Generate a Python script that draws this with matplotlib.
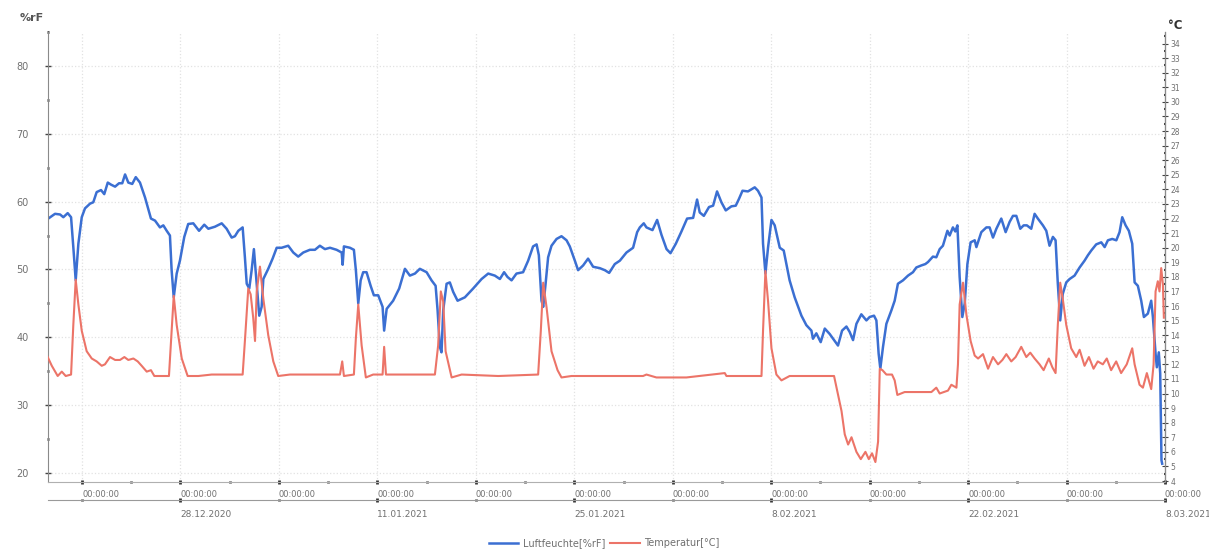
import numpy as np
import pandas as pd
import matplotlib
matplotlib.use("Agg")
import matplotlib.pyplot as plt
import matplotlib.dates as mdates
from matplotlib.ticker import MultipleLocator

# Messbeginn (Tage werden ab diesem Zeitpunkt gezaehlt)
start = pd.Timestamp("2020-12-18")

# Luftfeuchte [%rF]
tage_rf = [0.60, 1.08, 1.44, 1.67, 1.98, 2.22, 2.38, 2.55, 2.74, 2.98, 3.21, 3.57, 3.80, 4.04, 4.35,
           4.58, 4.83, 5.06, 5.35, 5.63, 5.86, 6.06, 6.29, 6.57, 6.82, 7.12, 7.48, 7.90, 8.19, 8.54,
           8.78, 9.02, 9.25, 9.37, 9.52, 9.73, 9.96, 10.27, 10.55, 10.91, 11.32, 11.69, 11.98, 12.45,
           12.93, 13.28, 13.64, 13.87, 14.11, 14.42, 14.58, 14.71, 14.89, 15.06, 15.22, 15.42, 15.60,
           15.77, 15.89, 16.24, 16.55, 16.84, 17.19, 17.66, 18.02, 18.37, 18.73, 19.20, 19.56, 19.91,
           20.27, 20.63, 21.10, 21.46, 21.53, 21.62, 22.05, 22.33, 22.47, 22.64, 22.81, 22.99, 23.23,
           23.52, 23.75, 24.06, 24.37, 24.48, 24.66, 25.12, 25.55, 25.96, 26.31, 26.67, 27.02, 27.50,
           27.85, 28.14, 28.28, 28.44, 28.56, 28.68, 28.92, 29.15, 29.39, 29.70, 30.22, 30.81, 31.41,
           31.88, 32.35, 32.71, 33.01, 33.25, 33.54, 33.89, 34.36, 34.72, 35.07, 35.32, 35.48, 35.67,
           35.79, 35.96, 36.14, 36.38, 36.74, 37.09, 37.45, 37.68, 38.04, 38.27, 38.63, 38.98, 39.34,
           39.81, 40.17, 40.48, 40.88, 41.24, 41.71, 42.18, 42.47, 42.66, 42.94, 43.13, 43.56, 43.89,
           44.20, 44.56, 44.84, 45.22, 45.62, 46.02, 46.45, 46.73, 46.92, 47.21, 47.58, 47.87, 48.15,
           48.46, 48.77, 49.17, 49.48, 49.71, 49.96, 50.35, 50.83, 51.06, 51.31, 51.42, 51.59, 51.78,
           52.02, 52.25, 52.61, 52.89, 53.31, 53.67, 54.15, 54.50, 54.86, 54.97, 55.21, 55.52, 55.81,
           56.16, 56.47, 56.75, 57.04, 57.35, 57.58, 57.82, 58.06, 58.41, 58.77, 59.00, 59.31, 59.48,
           59.64, 59.76, 59.95, 60.19, 60.55, 60.78, 61.01, 61.37, 61.73, 62.08, 62.32, 62.68, 62.96,
           63.15, 63.50, 63.74, 63.98, 64.21, 64.53, 64.69, 64.92, 65.09, 65.24, 65.40, 65.59, 65.76,
           65.95, 66.18, 66.47, 66.59, 66.94, 67.30, 67.53, 67.77, 68.01, 68.36, 68.67, 68.95, 69.19,
           69.43, 69.71, 69.95, 70.18, 70.49, 70.73, 70.96, 71.32, 71.56, 71.79, 72.03, 72.22, 72.38,
           72.55, 72.73, 72.98, 73.22, 73.57, 73.93, 74.28, 74.52, 74.76, 75.11, 75.47, 75.71, 75.94,
           76.25, 76.54, 76.77, 76.96, 77.20, 77.43, 77.67, 77.84, 78.07, 78.31, 78.50, 78.78, 79.02,
           79.14, 79.33, 79.42, 79.56, 79.66, 79.75, 79.80]
luftfeuchte = [57.5, 58.2, 58.1, 57.7, 58.3, 57.7, 53.3, 48.4, 53.8, 57.7, 59.0, 59.7, 59.9, 61.4, 61.7,
               61.1, 62.8, 62.5, 62.2, 62.7, 62.7, 64.0, 62.8, 62.6, 63.6, 62.8, 60.6, 57.5, 57.2, 56.2,
               56.5, 55.7, 55.0, 49.9, 45.9, 49.4, 51.3, 54.8, 56.7, 56.8, 55.7, 56.6, 56.0, 56.3,
               56.8, 56.0, 54.7, 54.9, 55.7, 56.2, 51.8, 47.9, 47.2, 49.9, 53.0, 47.9, 43.2,
               44.5, 48.6, 50.1, 51.6, 53.2, 53.2, 53.5, 52.5, 51.9, 52.5, 52.9, 52.9, 53.5,
               53.0, 53.2, 52.9, 52.5, 50.7, 53.4, 53.2, 52.9, 49.9, 45.0, 48.4, 49.6, 49.6,
               47.6, 46.2, 46.2, 44.5, 41.0, 44.2, 45.4, 47.2, 50.1, 49.1, 49.4, 50.1, 49.6,
               48.4, 47.6, 44.0, 38.6, 37.8, 44.0, 47.9, 48.1, 46.7, 45.4, 45.9, 47.2, 48.6,
               49.4, 49.1, 48.6, 49.6, 48.9, 48.4, 49.4, 49.6, 51.3, 53.4, 53.7, 52.1, 45.4,
               44.5, 47.9, 51.8, 53.5, 54.5, 54.9, 54.3, 53.4, 51.3, 49.9, 50.6, 51.6, 50.4,
               50.2, 49.9, 49.5, 50.8, 51.3, 52.5, 53.2, 55.5, 56.2, 56.8, 56.2, 55.8, 57.3,
               55.1, 53.0, 52.4, 53.8, 55.6, 57.5, 57.6, 60.3, 58.4, 57.9, 59.2, 59.4, 61.5,
               59.9, 58.7, 59.3, 59.4, 60.4, 61.6, 61.5, 62.1, 61.6, 60.6, 53.8, 49.4, 53.3,
               57.3, 56.5, 53.2, 52.8, 48.4, 45.9, 43.2, 41.8, 41.0, 39.8, 40.6, 39.3, 41.3,
               40.5, 39.6, 38.8, 41.0, 41.6, 40.8, 39.6, 42.0, 43.4, 42.5, 43.0, 43.2, 42.5,
               37.6, 35.4, 38.6, 42.0, 44.0, 45.4, 47.9, 48.4, 49.1, 49.6, 50.3, 50.6, 50.8,
               51.1, 51.9, 51.8, 53.0, 53.5, 55.7, 55.0, 56.2, 55.6, 56.5, 48.9, 43.0, 45.0,
               50.8, 54.0, 54.3, 53.3, 55.5, 56.2, 56.2, 54.7, 56.0, 57.5, 55.5, 57.0, 57.9,
               57.9, 56.0, 56.5, 56.5, 56.0, 58.2, 57.5, 56.5, 55.7, 53.5, 54.8, 54.3, 47.9,
               42.5, 46.4, 48.1, 48.6, 49.1, 50.3, 51.3, 52.1, 52.8, 53.7, 54.0, 53.3, 54.3,
               54.5, 54.3, 55.5, 57.7, 56.5, 55.7, 53.8, 48.1, 47.6, 45.4, 43.0, 43.5, 45.4,
               43.0, 37.6, 35.6, 37.8, 34.7, 21.9, 21.4]

# Temperatur [°C]
tage_t = [0.56, 0.85, 1.27, 1.56, 1.84, 2.22, 2.38, 2.55, 2.74, 2.98, 3.33, 3.69, 4.04, 4.40, 4.63,
          4.99, 5.35, 5.70, 6.01, 6.29, 6.65, 6.96, 7.24, 7.60, 7.90, 8.14, 8.54, 9.18, 9.37, 9.52,
          9.73, 10.09, 10.51, 11.27, 12.22, 13.87, 14.42, 14.58, 14.82, 14.99, 15.17, 15.30, 15.42,
          15.65, 15.89, 16.24, 16.60, 16.95, 17.78, 21.34, 21.50, 21.62, 22.33, 22.47, 22.64, 22.88,
          23.18, 23.70, 24.37, 24.48, 24.61, 27.02, 28.09, 28.32, 28.51, 28.68, 28.85, 29.28, 29.99,
          32.59, 35.43, 35.62, 35.79, 36.03, 36.38, 36.81, 37.09, 37.80, 40.17, 42.89, 43.13, 43.84,
          45.97, 48.70, 48.82, 51.31, 51.42, 51.59, 51.78, 52.02, 52.37, 52.73, 53.31, 56.47, 56.71,
          57.00, 57.23, 57.47, 57.71, 58.06, 58.37, 58.70, 58.94, 59.17, 59.41, 59.60, 59.72, 59.91,
          60.19, 60.59, 60.78, 60.97, 61.49, 62.44, 63.39, 63.74, 63.98, 64.57, 64.81, 65.17, 65.28,
          65.40, 65.64, 65.88, 66.18, 66.47, 66.71, 67.06, 67.42, 67.77, 68.13, 68.44, 68.72, 69.07,
          69.38, 69.78, 70.14, 70.42, 70.73, 71.08, 71.37, 71.74, 71.99, 72.22, 72.38, 72.55, 72.73,
          72.98, 73.33, 73.69, 73.93, 74.28, 74.59, 74.92, 75.22, 75.58, 75.86, 76.17, 76.53, 76.88,
          77.28, 77.67, 77.84, 78.19, 78.43, 78.71, 79.02, 79.19, 79.33, 79.49, 79.61, 79.73, 79.85,
          79.92]
temperatur = [12.5, 11.9, 11.2, 11.5, 11.2, 11.3, 14.7, 17.8, 16.1, 14.3, 12.9, 12.4, 12.2, 11.9, 12.0,
              12.5, 12.3, 12.3, 12.5, 12.3, 12.4, 12.2, 11.9, 11.5, 11.6, 11.2, 11.2, 11.2, 14.3, 16.7,
              14.7, 12.4, 11.2, 11.2, 11.3, 11.3, 11.3, 13.6, 17.2, 16.8, 15.2, 13.6, 17.0,
              18.7, 16.5, 14.0, 12.2, 11.2, 11.3, 11.3, 12.2, 11.2, 11.3, 13.8, 16.1, 13.3,
              11.1, 11.3, 11.3, 13.2, 11.3, 11.3, 11.3, 13.3, 17.0, 16.3, 12.9, 11.1, 11.3,
              11.2, 11.3, 14.3, 17.6, 15.9, 12.9, 11.6, 11.1, 11.2, 11.2, 11.2, 11.3, 11.1,
              11.1, 11.4, 11.2, 11.2, 14.3, 18.4, 16.3, 13.1, 11.3, 10.9, 11.2, 11.2, 10.1,
              8.8, 7.2, 6.5, 7.0, 6.0, 5.5, 6.0, 5.5, 5.9, 5.3, 6.7, 11.7, 11.6,
              11.3, 11.3, 10.9, 9.9, 10.1, 10.1, 10.1, 10.4, 10.0, 10.2, 10.6, 10.4, 12.0,
              16.1, 17.6, 15.4, 13.6, 12.6, 12.4, 12.7, 11.7, 12.5, 12.0, 12.3, 12.7, 12.2,
              12.5, 13.2, 12.5, 12.8, 12.4, 12.0, 11.6, 12.4, 11.8, 11.4, 14.7, 17.6, 16.5,
              14.7, 13.1, 12.5, 13.0, 11.9, 12.5, 11.7, 12.2, 12.0, 12.4, 11.6, 12.2, 11.4,
              12.0, 13.1, 12.0, 10.6, 10.4, 11.4, 10.3, 12.0, 17.0, 17.7, 17.0, 18.6, 17.5,
              15.2]

# Achsenbeschriftung unten
wochen = pd.date_range("2020-12-21", "2021-03-08", freq="7D")
halbwochen = pd.date_range("2020-12-24 12:00", "2021-03-04 12:00", freq="7D")
datum_ticks = pd.date_range("2020-12-28", "2021-03-08", freq="14D")
datum_labels = ["28.12.2020", "11.01.2021", "25.01.2021", "8.02.2021", "22.02.2021", "8.03.2021"]

blau = "#3b6fd2"
rot = "#ec7468"
grau = "#707070"

t0 = mdates.date2num(start)
x_rf = t0 + np.array(tage_rf)
x_t = t0 + np.array(tage_t)

fig = plt.figure(figsize=(12.09, 5.49), dpi=100)
ax = fig.add_axes([0.0397, 0.122, 0.9239, 0.820])
ax2 = ax.twinx()

l1, = ax.plot(x_rf, luftfeuchte, color=blau, lw=1.8, label="Luftfeuchte[%rF]")
l2, = ax2.plot(x_t, temperatur, color=rot, lw=1.5, label="Temperatur[°C]")

# linke Achse
ax.set_yticks(np.arange(20, 81, 10))
ax.yaxis.set_minor_locator(MultipleLocator(5))
ax.tick_params(axis="y", which="major", direction="inout", length=4, width=1, color="#444444",
               labelsize=7, labelcolor=grau, pad=12)
ax.tick_params(axis="y", which="minor", direction="inout", length=2, width=2, color="#444444")

# rechte Achse
ax2.set_yticks(np.arange(4, 35, 1))
ax2.yaxis.set_minor_locator(MultipleLocator(0.5))
ax2.tick_params(axis="y", which="major", direction="inout", length=4, width=0.8, color="#444444",
                labelsize=5.5, labelcolor=grau, pad=2)
ax2.tick_params(axis="y", which="minor", direction="inout", length=1.5, width=1.5, color="#444444")

# untere Achse: Uhrzeit
ax.set_xticks(mdates.date2num(wochen))
ax.set_xticklabels(["00:00:00"] * len(wochen), ha="left")
ax.set_xticks(mdates.date2num(halbwochen), minor=True)
ax.tick_params(axis="x", which="major", direction="inout", length=3, width=2, color="#333333",
               labelsize=6, labelcolor=grau, pad=4)
ax.tick_params(axis="x", which="minor", direction="inout", length=2, width=2, color="#333333")

# zweite Zeile: Datum
sec = ax.secondary_xaxis(-0.04)
sec.set_xticks(mdates.date2num(datum_ticks))
sec.set_xticklabels(datum_labels, ha="left")
sec.set_xticks(mdates.date2num(wochen), minor=True)
sec.tick_params(axis="x", which="major", direction="inout", length=3, width=2, color="#333333",
                labelsize=6.5, labelcolor=grau, pad=6)
sec.tick_params(axis="x", which="minor", direction="inout", length=2, width=2, color="#333333")
sec.spines["bottom"].set_color("#9a9a9a")
sec.spines["bottom"].set_linewidth(0.8)

# Grenzen erst nach den Ticks setzen
ax.set_xlim(t0 + 0.58, t0 + 80.0)
ax.set_ylim(18.7, 85)
ax2.set_ylim(3.93, 34.8)

for a in (ax, ax2):
    a.spines["top"].set_visible(False)
ax.spines["left"].set_color("#8a8a8a")
ax.spines["bottom"].set_color("#b0b0b0")
ax2.spines["right"].set_color("#8a8a8a")
ax2.spines["left"].set_visible(False)
ax2.spines["bottom"].set_visible(False)

ax.grid(True, which="major", axis="both", color="#e2e2e2", linestyle=":", lw=0.9)

fig.text(0.016, 0.962, "%rF", fontsize=8, fontweight="bold", color="#555555")
fig.text(0.966, 0.948, "°C", fontsize=8.5, fontweight="bold", color="#333333")

fig.legend(handles=[l1, l2], loc="lower center", bbox_to_anchor=(0.5, -0.015), ncol=2,
           frameon=False, fontsize=7, labelcolor=grau, handlelength=3, columnspacing=0.5,
           handletextpad=0.5)

fig.savefig("out.png", dpi=100)
